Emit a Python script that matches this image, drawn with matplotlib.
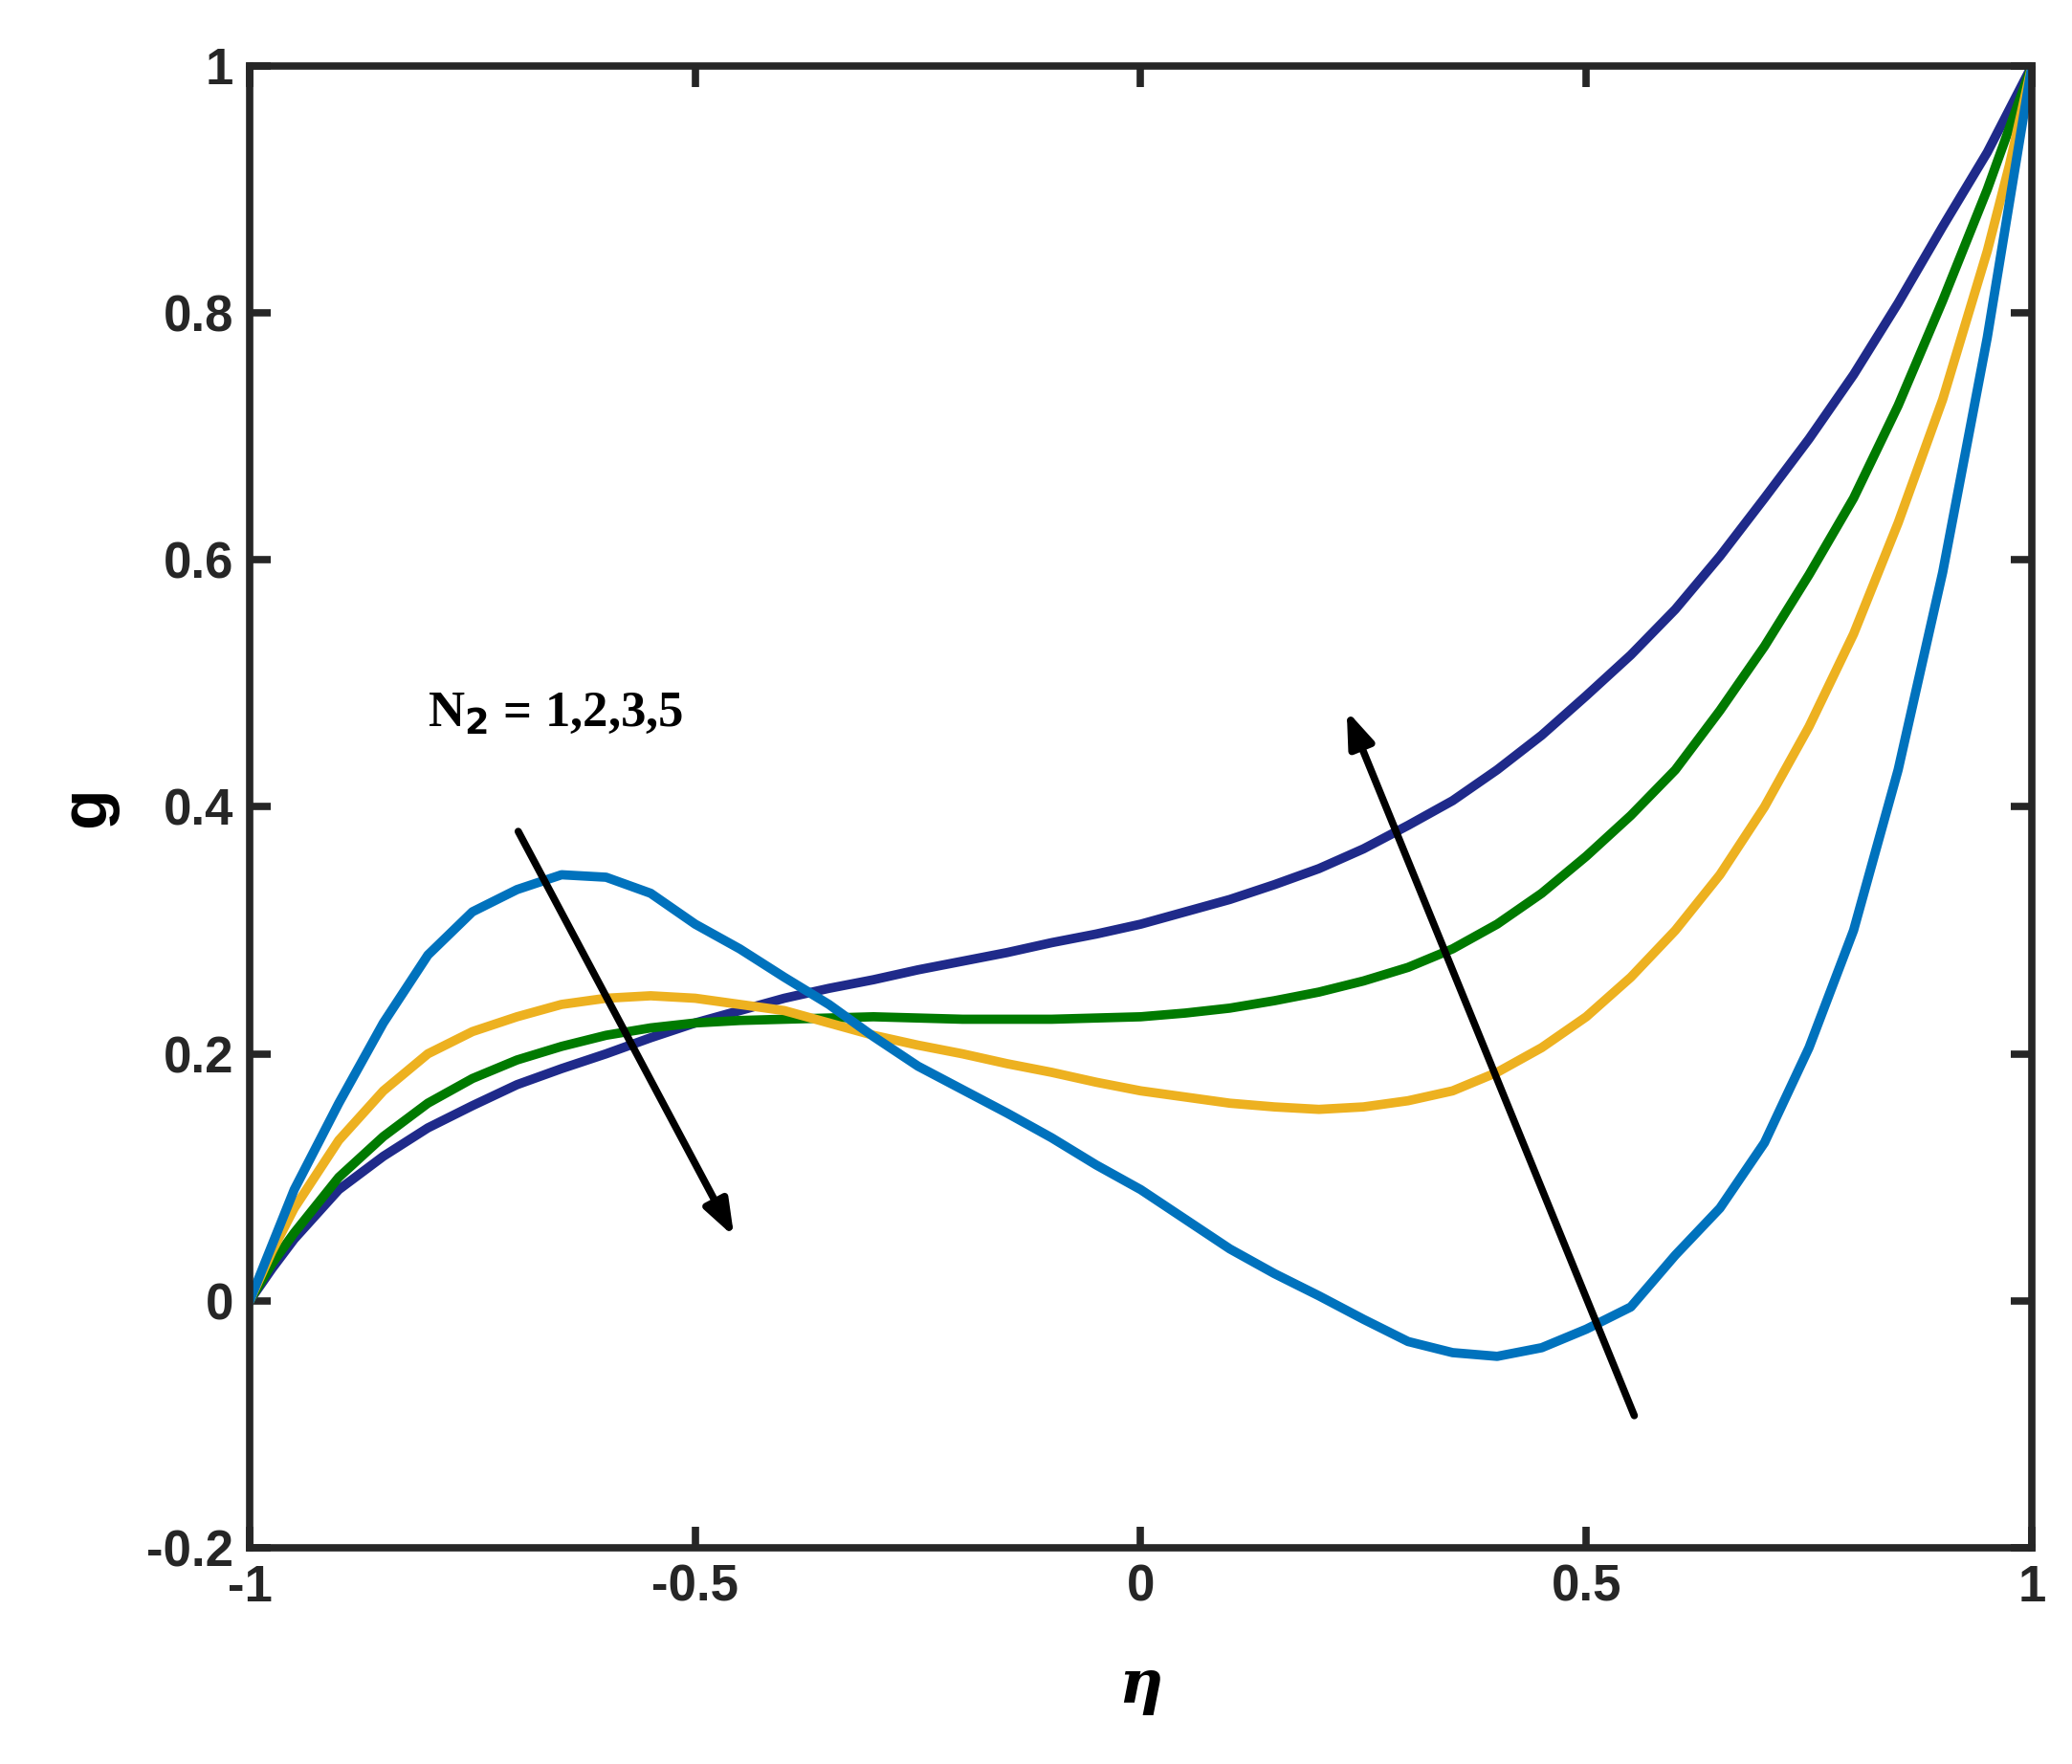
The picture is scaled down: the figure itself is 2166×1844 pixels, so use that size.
import numpy as np
import matplotlib.pyplot as plt

eta = [-1.0, -0.975, -0.95, -0.9, -0.85, -0.8, -0.75, -0.7, -0.65, -0.6, -0.55, -0.5,
       -0.45, -0.4, -0.35, -0.3, -0.25, -0.2, -0.15, -0.1, -0.05, 0.0,
       0.05, 0.1, 0.15, 0.2, 0.25, 0.3, 0.35, 0.4, 0.45, 0.5,
       0.55, 0.6, 0.65, 0.7, 0.75, 0.8, 0.85, 0.9, 0.95, 0.975, 1.0]

g_n5 = [0.0, 0.045, 0.09, 0.16, 0.225, 0.28, 0.315, 0.333, 0.345, 0.343, 0.33, 0.305,
        0.285, 0.262, 0.24, 0.214, 0.19, 0.171, 0.152, 0.132, 0.11, 0.09,
        0.066, 0.042, 0.022, 0.004, -0.015, -0.033, -0.042, -0.045, -0.038, -0.023,
        -0.005, 0.037, 0.075, 0.128, 0.205, 0.30, 0.43, 0.59, 0.78, 0.89, 1.0]
g_n3 = [0.0, 0.04, 0.075, 0.13, 0.17, 0.20, 0.218, 0.23, 0.24, 0.245, 0.247, 0.245,
        0.24, 0.235, 0.225, 0.215, 0.207, 0.20, 0.192, 0.185, 0.177, 0.17,
        0.165, 0.16, 0.157, 0.155, 0.157, 0.162, 0.17, 0.185, 0.205, 0.23,
        0.262, 0.30, 0.345, 0.40, 0.465, 0.54, 0.63, 0.73, 0.85, 0.92, 1.0]
g_n2 = [0.0, 0.03, 0.055, 0.10, 0.133, 0.16, 0.18, 0.195, 0.206, 0.215, 0.221, 0.225,
        0.227, 0.228, 0.229, 0.23, 0.229, 0.228, 0.228, 0.228, 0.229, 0.23,
        0.233, 0.237, 0.243, 0.25, 0.259, 0.27, 0.285, 0.305, 0.33, 0.36,
        0.393, 0.43, 0.478, 0.53, 0.588, 0.65, 0.725, 0.81, 0.90, 0.95, 1.0]
g_n1 = [0.0, 0.026, 0.05, 0.09, 0.117, 0.14, 0.158, 0.175, 0.188, 0.20, 0.213, 0.225,
        0.235, 0.245, 0.253, 0.26, 0.268, 0.275, 0.282, 0.29, 0.297, 0.305,
        0.315, 0.325, 0.337, 0.35, 0.366, 0.385, 0.405, 0.43, 0.458, 0.49,
        0.523, 0.56, 0.603, 0.65, 0.698, 0.75, 0.808, 0.87, 0.93, 0.965, 1.0]

series = [(g_n1, '#1f2a8a'), (g_n2, '#007a00'), (g_n3, '#edb120'), (g_n5, '#0072bd')]

fig = plt.figure(figsize=(21.66, 18.44), dpi=100)
ax = fig.add_axes([0.1205, 0.1226, 0.8601, 0.84])
for g, c in series:
    ax.plot(eta, g, color=c, linewidth=7, solid_joinstyle='round')

ax.set_xlim(-1, 1)
ax.set_ylim(-0.2, 1)
ax.set_xticks([-1, -0.5, 0, 0.5, 1])
ax.set_xticklabels(['-1', '-0.5', '0', '0.5', '1'])
ax.set_yticks([-0.2, 0, 0.2, 0.4, 0.6, 0.8, 1])
ax.set_yticklabels(['-0.2', '0', '0.2', '0.4', '0.6', '0.8', '1'])
for s in ax.spines.values():
    s.set_linewidth(5.5)
    s.set_color('#262626')
ax.tick_params(direction='in', length=16, width=5.5, labelsize=38, pad=12,
               top=True, right=True, colors='#262626')
for lab in ax.get_xticklabels() + ax.get_yticklabels():
    lab.set_fontweight('bold')
    lab.set_family('Liberation Sans')
ax.set_xlabel('η', fontsize=46, fontweight='bold',
              fontstyle='italic', family='DejaVu Serif', labelpad=34)
ax.set_ylabel('g', fontsize=50, fontweight='bold', family='Liberation Sans', labelpad=22)

arrow = dict(arrowstyle='-|>,head_length=2.2,head_width=0.8', color='black', lw=5.5)
ax.annotate('', xy=(-0.455, 0.05), xytext=(-0.7, 0.382), arrowprops=arrow)
ax.annotate('', xy=(0.23, 0.48), xytext=(0.555, -0.095), arrowprops=arrow)
ax.text(-0.8, 0.465, r'N$_{\mathbf{2}}$ = 1,2,3,5', fontsize=38, fontweight='bold',
        family='Liberation Serif')

fig.savefig('out.png', dpi=100, facecolor='white')
